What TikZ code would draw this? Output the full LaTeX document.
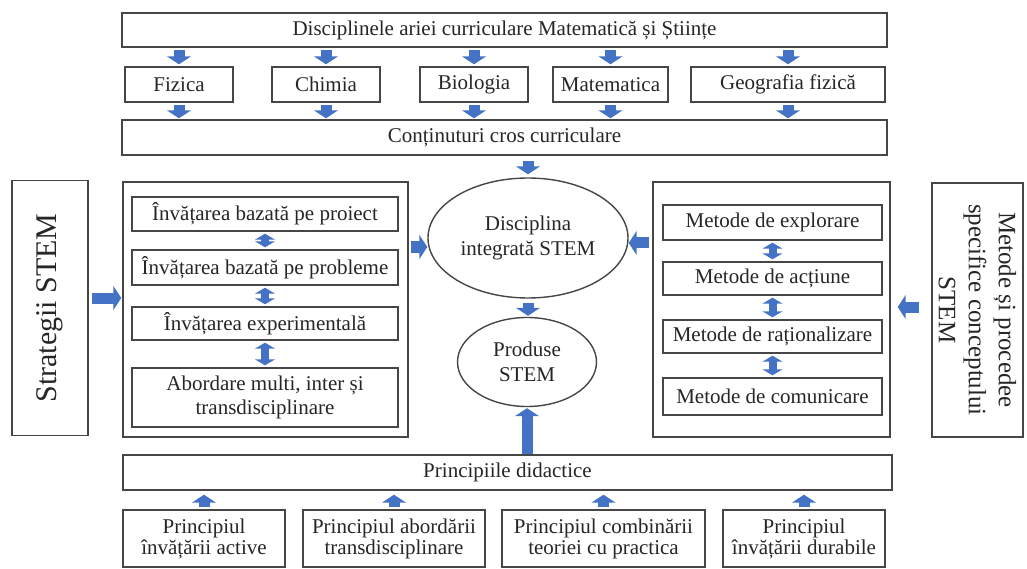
\documentclass[tikz,border=0pt]{standalone}
\usepackage{fontspec}
\setmainfont{Liberation Serif}
\usetikzlibrary{arrows.meta,positioning,shapes.geometric,calc}
\definecolor{stemblue}{RGB}{68,114,196}
\definecolor{stemgray}{RGB}{70,70,70}

\begin{document}
\begin{tikzpicture}[x=1pt,y=-1pt,
      box/.style={draw=stemgray, line width=1.4pt, fill=white, inner sep=1pt,
                  minimum height=35pt, text=black!85,
                  font=\fontsize{21}{24}\selectfont, align=center},
      oval/.style={ellipse, draw=stemgray, line width=1.4pt, inner sep=0pt,
                   text=black!85, font=\fontsize{21}{25}\selectfont, align=center},
      frame/.style={draw=stemgray, line width=1.4pt, minimum width=255pt},
      blk/.style={-{Triangle[width=24pt,length=8pt]}, line width=11pt, draw=stemblue},
      dbl/.style={{Triangle[width=20pt,length=6pt]}-{Triangle[width=20pt,length=6pt]},
                  line width=8pt, draw=stemblue}
  ]
    \useasboundingbox (0,0) rectangle (1027,569);
    \node[box, minimum width=765pt, minimum height=34pt] (arie) at (504.5,30) {Disciplinele ariei curriculare Matematică și Științe};
    \node[box, minimum width=108pt] (fiz) at (179,84.5) {Fizica};
    \node[box, minimum width=108pt] (chim) at (326,84.5) {Chimia};
    \node[box, minimum width=108pt] (bio) at (474,84.5) {Biologia};
    \node[box, minimum width=115pt] (mat) at (610.5,84.5) {Matematica};
    \node[box, minimum width=194pt] (geo) at (788,84.5) {Geografia fizică};
    \node[box, minimum width=765pt] (cont) at (504.5,137.5) {Conținuturi cros curriculare};

    \node[frame, rotate=90, minimum height=76pt, text=black!85,
          font=\fontsize{30}{34}\selectfont] (strat) at (50,308) {Strategii STEM};
    \node[frame, minimum width=285pt, minimum height=255pt] (strbox) at (265.5,309.5) {};
    \node[box, minimum width=266pt, minimum height=34pt] (inv1) at (265,214) {Învățarea bazată pe proiect};
    \node[box, minimum width=266pt] (inv2) at (265,267.5) {Învățarea bazată pe probleme};
    \node[box, minimum width=266pt, minimum height=33pt] (inv3) at (265,323.5) {Învățarea experimentală};
    \node[box, minimum width=266pt, minimum height=59pt] (inv4) at (265,397.5) {Abordare multi, inter și\\ transdisciplinare};

    \node[oval, minimum width=200pt, minimum height=120pt] (disc) at (528,238) {Disciplina\\ integrată STEM};
    \node[oval, minimum width=139pt, minimum height=89pt] (prod) at (527,362) {Produse\\ STEM};

    \node[frame, minimum width=237pt, minimum height=255pt] (metbox) at (771.5,309.5) {};
    \node[box, minimum width=219pt] (met1) at (772.5,222.5) {Metode de explorare};
    \node[box, minimum width=219pt, minimum height=33pt] (met2) at (772.5,278.5) {Metode de acțiune};
    \node[box, minimum width=219pt, minimum height=33pt] (met3) at (772.5,336.5) {Metode de raționalizare};
    \node[box, minimum width=219pt, minimum height=37pt] (met4) at (772.5,396.5) {Metode de comunicare};
    \node[frame, rotate=-90, minimum width=254pt, minimum height=91pt, align=center, text=black!85,
          font=\fontsize{25}{30}\selectfont] (metside) at (977.5,310) {Metode și procedee\\ specifice conceptului\\ STEM};

    \node[box, minimum width=769pt] (princ) at (507.5,472.5) {Principiile didactice};
    \node[box, minimum width=162pt, minimum height=57pt, font=\fontsize{21}{21}\selectfont] (pr1) at (204,538.5) {Principiul\\ învățării active};
    \node[box, minimum width=182pt, minimum height=57pt, font=\fontsize{21}{21}\selectfont] (pr2) at (394,538.5) {Principiul abordării\\ transdisciplinare};
    \node[box, minimum width=203pt, minimum height=57pt, font=\fontsize{21}{21}\selectfont] (pr3) at (603.5,538.5) {Principiul combinării\\ teoriei cu practica};
    \node[box, minimum width=162pt, minimum height=57pt, font=\fontsize{21}{21}\selectfont] (pr4) at (804,538.5) {Principiul\\ învățării durabile};

    \foreach \s in {fiz,chim,bio,mat,geo}{
      \draw[blk, shorten <=2pt, shorten >=2pt] (arie.south -| \s.north) -- (\s.north);
      \draw[blk, shorten <=2pt, shorten >=1pt] (\s.south) -- (cont.north -| \s.south);
    }
    \draw[blk, shorten <=5pt, shorten >=3pt] (cont.south -| disc.north) -- (disc.north);
    \draw[blk, shorten <=3pt, shorten >=1pt] ($(strat.south)+(0,-10)$) -- ($(strbox.west |- strat.south)+(0,-10)$);
    \draw[blk] ($(strbox.east |- disc.west)+(2,9)$) -- ($(disc.west)+(0,9)$);
    \draw[blk] ($(metbox.west |- disc.east)+(-3,5)$) -- ($(disc.east)+(0,5)$);
    \draw[blk, shorten <=12pt, shorten >=7pt] ($(metside.south)+(0,-3)$) -- ($(metbox.east |- metside.south)+(0,-3)$);
    \draw[blk, shorten <=4pt, shorten >=1pt] (disc.south) -- (disc.south |- prod.north);
    \draw[blk, shorten >=1pt] (princ.north -| prod.south) -- (prod.south);
    \foreach \p in {pr1,pr2,pr3,pr4}
      \draw[blk, shorten <=2pt, shorten >=4pt] (\p.north) -- (princ.south -| \p.north);
    \foreach \a/\b in {inv1/inv2,inv2/inv3,inv3/inv4,met1/met2,met2/met3,met3/met4}
      \draw[dbl, shorten <=2pt, shorten >=2pt] (\a.south) -- (\b.north);
  \end{tikzpicture}
\end{document}
